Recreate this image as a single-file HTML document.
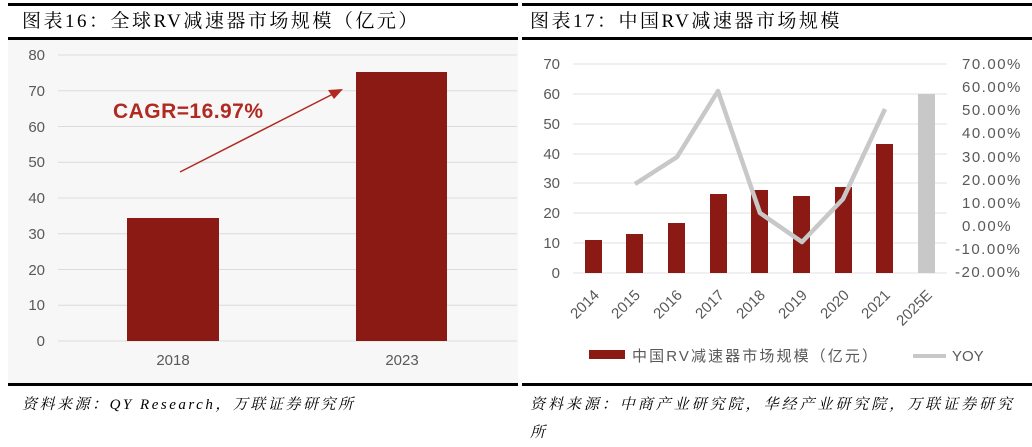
<!DOCTYPE html><html><head><meta charset="utf-8"><style>
body{margin:0;background:#fff;width:1032px;height:447px;overflow:hidden}
svg{display:block}
.t{font-family:"Liberation Serif","Noto Serif CJK SC",serif;font-size:19px;fill:#000;letter-spacing:2.5px}
.a{font-family:"Liberation Sans",sans-serif;font-size:15px;fill:#595959}
.s{font-family:"Liberation Serif","Noto Serif CJK SC",serif;font-size:15px;font-style:italic;fill:#000;letter-spacing:2px}
</style></head><body>
<svg width="1032" height="447" viewBox="0 0 1032 447">
<rect x="8" y="3" width="510" height="3" fill="#000"/>
<text class="t" x="22" y="27">图表16：全球RV减速器市场规模（亿元）</text>
<rect x="8" y="37" width="510" height="3" fill="#000"/>
<rect x="8" y="40" width="510" height="343" fill="#f7f7f7"/>
<g stroke="#dcdcdc" stroke-width="1">
<line x1="58" x2="517" y1="55" y2="55"/><line x1="58" x2="517" y1="90.8" y2="90.8"/><line x1="58" x2="517" y1="126.5" y2="126.5"/><line x1="58" x2="517" y1="162.3" y2="162.3"/><line x1="58" x2="517" y1="198" y2="198"/><line x1="58" x2="517" y1="233.8" y2="233.8"/><line x1="58" x2="517" y1="269.5" y2="269.5"/><line x1="58" x2="517" y1="305.3" y2="305.3"/><line x1="58" x2="517" y1="341" y2="341"/>
</g>
<g class="a" text-anchor="end">
<text x="45" y="60">80</text><text x="45" y="96">70</text><text x="45" y="132">60</text><text x="45" y="167">50</text><text x="45" y="203">40</text><text x="45" y="239">30</text><text x="45" y="275">20</text><text x="45" y="310">10</text><text x="45" y="346">0</text>
</g>
<rect x="127" y="218" width="92" height="123" fill="#8b1a14"/>
<rect x="356" y="72" width="91" height="269" fill="#8b1a14"/>
<text class="a" x="173" y="365" text-anchor="middle">2018</text>
<text class="a" x="402" y="365" text-anchor="middle">2023</text>
<text x="113" y="118" font-family="Liberation Sans,sans-serif" font-weight="bold" font-size="21" fill="#b02a22" textLength="150">CAGR=16.97%</text>
<line x1="180" y1="172" x2="333" y2="94" stroke="#b02a22" stroke-width="1.5"/>
<polygon points="343,89 328,90 334,99" fill="#b02a22"/>
<rect x="8" y="383" width="510" height="3" fill="#000"/>
<text class="s" x="22" y="409" textLength="333">资料来源：QY Research，万联证券研究所</text>

<rect x="522" y="3" width="510" height="3" fill="#000"/>
<text class="t" x="530" y="27">图表17：中国RV减速器市场规模</text>
<rect x="522" y="37" width="510" height="3" fill="#000"/>
<g stroke="#e0e0e0" stroke-width="1">
<line x1="573" x2="947" y1="64" y2="64"/><line x1="573" x2="947" y1="94" y2="94"/><line x1="573" x2="947" y1="124" y2="124"/><line x1="573" x2="947" y1="154" y2="154"/><line x1="573" x2="947" y1="183" y2="183"/><line x1="573" x2="947" y1="213" y2="213"/><line x1="573" x2="947" y1="243" y2="243"/><line x1="573" x2="947" y1="273" y2="273"/>
</g>
<g class="a" text-anchor="end">
<text x="560" y="69">70</text><text x="560" y="99">60</text><text x="560" y="129">50</text><text x="560" y="159">40</text><text x="560" y="188">30</text><text x="560" y="218">20</text><text x="560" y="248">10</text><text x="560" y="278">0</text>
</g>
<g class="a" font-size="15" letter-spacing="1.5">
<text x="962" y="69">70.00%</text><text x="962" y="92">60.00%</text><text x="962" y="115">50.00%</text><text x="962" y="138">40.00%</text><text x="962" y="162">30.00%</text><text x="962" y="185">20.00%</text><text x="962" y="208">10.00%</text><text x="962" y="231">0.00%</text><text x="955" y="254">-10.00%</text><text x="955" y="277">-20.00%</text>
</g>
<g fill="#8b1a14">
<rect x="585" y="240" width="17" height="33"/>
<rect x="626" y="234" width="17" height="39"/>
<rect x="668" y="223" width="17" height="50"/>
<rect x="710" y="194" width="17" height="79"/>
<rect x="751" y="190" width="17" height="83"/>
<rect x="793" y="196" width="17" height="77"/>
<rect x="835" y="187" width="17" height="86"/>
<rect x="876" y="144" width="17" height="129"/>
</g>
<rect x="918" y="94" width="17" height="179" fill="#c8c8c8"/>
<polyline points="635,184 677,157 718,91 760,213 802,242 843,199 885,109" fill="none" stroke="#c8c8c8" stroke-width="4.5" stroke-linejoin="round"/>
<g class="a" font-size="14">
<text transform="translate(600,296) rotate(-45)" text-anchor="end">2014</text>
<text transform="translate(641,296) rotate(-45)" text-anchor="end">2015</text>
<text transform="translate(683,296) rotate(-45)" text-anchor="end">2016</text>
<text transform="translate(725,296) rotate(-45)" text-anchor="end">2017</text>
<text transform="translate(766,296) rotate(-45)" text-anchor="end">2018</text>
<text transform="translate(808,296) rotate(-45)" text-anchor="end">2019</text>
<text transform="translate(850,296) rotate(-45)" text-anchor="end">2020</text>
<text transform="translate(891,296) rotate(-45)" text-anchor="end">2021</text>
<text transform="translate(933,296) rotate(-45)" text-anchor="end">2025E</text>
</g>
<rect x="589" y="350" width="36" height="9" fill="#8b1a14"/>
<text x="632" y="361" font-family="Liberation Sans,'Noto Sans CJK SC',sans-serif" font-size="15" fill="#595959" textLength="245">中国RV减速器市场规模（亿元）</text>
<line x1="913" x2="946" y1="356" y2="356" stroke="#c8c8c8" stroke-width="4"/>
<text x="952" y="361" class="a">YOY</text>
<rect x="522" y="383" width="510" height="3" fill="#000"/>
<text class="s" x="530" y="409" textLength="484">资料来源：中商产业研究院，华经产业研究院，万联证券研究</text>
<text class="s" x="530" y="437">所</text>
</svg>
</body></html>
